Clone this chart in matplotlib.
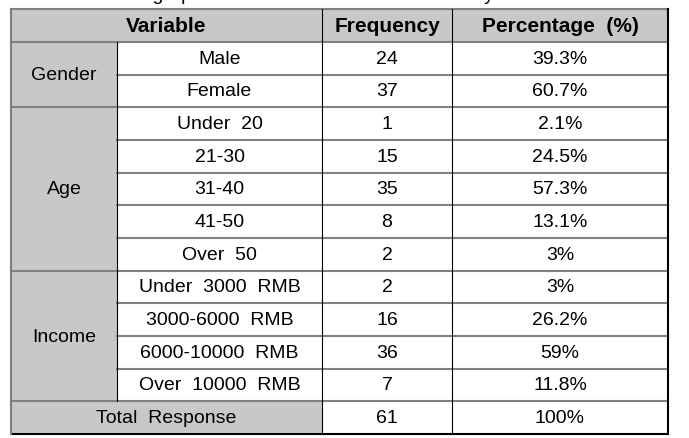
import matplotlib
matplotlib.use("Agg")
import matplotlib.pyplot as plt
from matplotlib.patches import Rectangle
from matplotlib import font_manager

# table content
groups = ["Gender", "Age", "Income"]
group_sizes = [2, 5, 4]
variables = ["Male", "Female",
             "Under  20", "21-30", "31-40", "41-50", "Over  50",
             "Under  3000  RMB", "3000-6000  RMB", "6000-10000  RMB", "Over  10000  RMB"]
freqs = [24, 37, 1, 15, 35, 8, 2, 2, 16, 36, 7]
pcts = ["39.3%", "60.7%", "2.1%", "24.5%", "57.3%", "13.1%", "3%",
        "3%", "26.2%", "59%", "11.8%"]
headers = ["Variable", "Frequency", "Percentage  (%)"]
total_label = "Total  Response"
total_freq = 61
total_pct = "100%"
title = "Table 1.  Demographic  Characteristics  of  the  Survey"

# fonts
names = {f.name for f in font_manager.fontManager.ttflist}
body_font = "Liberation Sans" if "Liberation Sans" in names else "DejaVu Sans"
if "Liberation Sans Narrow" in names:
    head_font, head_size = "Liberation Sans Narrow", 17.5
else:
    head_font, head_size = body_font, 15
body_size = 14

W, H = 689, 438
fig = plt.figure(figsize=(W / 100, H / 100), dpi=100)
ax = fig.add_axes([0, 0, 1, 1])
ax.set_xlim(0, W)
ax.set_ylim(H, 0)
ax.axis("off")

# layout in pixels
x_edges = [11, 117, 322, 452, 668]
top, head_bot = 9, 42
n_rows = len(variables) + 1
row_h = (434 - head_bot) / n_rows
row_edges = [head_bot + i * row_h for i in range(n_rows + 1)]
bottom = row_edges[-1]

fill = "#c8c8c8"
hline_c = "#808080"

# gray fills: header, group cells, total label
ax.add_patch(Rectangle((x_edges[0], top), x_edges[-1] - x_edges[0], head_bot - top,
                       facecolor=fill, edgecolor="none"))
ax.add_patch(Rectangle((x_edges[0], head_bot), x_edges[1] - x_edges[0], row_edges[-2] - head_bot,
                       facecolor=fill, edgecolor="none"))
ax.add_patch(Rectangle((x_edges[0], row_edges[-2]), x_edges[2] - x_edges[0], row_h,
                       facecolor=fill, edgecolor="none"))

# horizontal lines
ax.plot([x_edges[0], x_edges[-1]], [top, top], color=hline_c, lw=1.5)
ax.plot([x_edges[0], x_edges[-1]], [head_bot, head_bot], color=hline_c, lw=1.5)
group_starts = []
r = 0
for g in group_sizes:
    group_starts.append(r)
    r += g
for i in range(1, n_rows):
    y = row_edges[i]
    x0 = x_edges[0] if (i in group_starts or i == n_rows - 1) else x_edges[1]
    ax.plot([x0, x_edges[-1]], [y, y], color=hline_c, lw=1.5)
ax.plot([x_edges[0], x_edges[-1]], [bottom, bottom], color="black", lw=1.5)

# vertical lines
ax.plot([x_edges[0], x_edges[0]], [top, bottom], color=hline_c, lw=1.5)
ax.plot([x_edges[-1], x_edges[-1]], [top, bottom], color="black", lw=1.5)
ax.plot([x_edges[1], x_edges[1]], [head_bot, row_edges[-2]], color="black", lw=0.8)
ax.plot([x_edges[2], x_edges[2]], [top, bottom], color="black", lw=0.8)
ax.plot([x_edges[3], x_edges[3]], [top, bottom], color="black", lw=0.8)

# header text
head_x = [(x_edges[0] + x_edges[2]) / 2, (x_edges[2] + x_edges[3]) / 2,
          (x_edges[3] + x_edges[4]) / 2]
for hx, h in zip(head_x, headers):
    ax.text(hx, (top + head_bot) / 2 + 1, h, ha="center", va="center",
            fontfamily=head_font, fontweight="bold", fontsize=head_size)

# body text
cx = [(x_edges[i] + x_edges[i + 1]) / 2 for i in range(4)]
for i, (v, f, p) in enumerate(zip(variables, freqs, pcts)):
    yc = (row_edges[i] + row_edges[i + 1]) / 2 + 1
    ax.text(cx[1], yc, v, ha="center", va="center", fontfamily=body_font, fontsize=body_size)
    ax.text(cx[2], yc, str(f), ha="center", va="center", fontfamily=body_font, fontsize=body_size)
    ax.text(cx[3], yc, p, ha="center", va="center", fontfamily=body_font, fontsize=body_size)

for g, s, n in zip(groups, group_starts, group_sizes):
    yc = (row_edges[s] + row_edges[s + n]) / 2 + 1
    ax.text(cx[0], yc, g, ha="center", va="center", fontfamily=body_font, fontsize=body_size)

yc = (row_edges[-2] + row_edges[-1]) / 2 + 1
ax.text((x_edges[0] + x_edges[2]) / 2, yc, total_label, ha="center", va="center",
        fontfamily=body_font, fontsize=body_size)
ax.text(cx[2], yc, str(total_freq), ha="center", va="center", fontfamily=body_font, fontsize=body_size)
ax.text(cx[3], yc, total_pct, ha="center", va="center", fontfamily=body_font, fontsize=body_size)

# title, cut off by the top edge of the image (only descenders show)
ax.text(494, 0, title, ha="right", va="baseline", fontfamily=body_font, fontsize=body_size)

fig.savefig("out.png", dpi=100)
